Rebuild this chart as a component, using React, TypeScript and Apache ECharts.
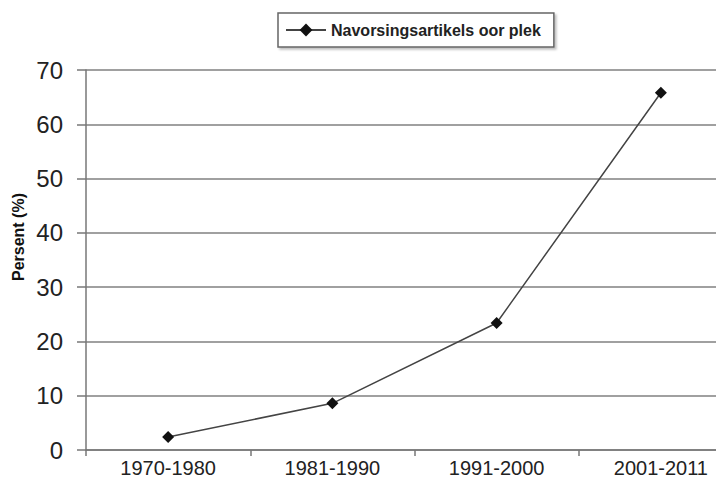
import React, { useEffect, useRef } from "react";
import * as echarts from "echarts";

const categories = ["1970-1980", "1981-1990", "1991-2000", "2001-2011"];
const seriesName = "Navorsingsartikels oor plek";
const values = [2.4, 8.6, 23.4, 65.8];
const yAxisTitle = "Persent (%)";

export default function App() {
  const ref = useRef<HTMLDivElement>(null);
  useEffect(() => {
    if (!ref.current) return;
    const chart = echarts.init(ref.current, null, { renderer: "svg" });
    const font = "'Liberation Sans', Arial, sans-serif";
    chart.setOption({
      animation: false,
      backgroundColor: "#ffffff",
      textStyle: { fontFamily: font },
      grid: { left: 86, right: 0, top: 70, bottom: 44, containLabel: false },
      legend: {
        left: 278,
        top: 13,
        padding: [9, 13, 9, 7],
        itemWidth: 40,
        itemHeight: 16,
        borderColor: "#666",
        borderWidth: 1.5,
        backgroundColor: "#fff",
        shadowColor: "rgba(0,0,0,0.25)",
        shadowOffsetX: 2,
        shadowOffsetY: 2,
        shadowBlur: 2,
        textStyle: { fontSize: 16, fontWeight: "bold", color: "#222", fontFamily: font },
        data: [seriesName],
      },
      xAxis: {
        type: "category",
        data: categories,
        boundaryGap: true,
        axisLine: { lineStyle: { color: "#777", width: 1.5 } },
        axisTick: { show: true, length: 6, lineStyle: { color: "#777", width: 1.5 } },
        axisLabel: { fontSize: 20, color: "#222", margin: 8, fontFamily: font },
      },
      yAxis: {
        type: "value",
        min: 0,
        max: 70,
        interval: 10,
        axisLine: { show: true, lineStyle: { color: "#777", width: 1.5 } },
        axisTick: { show: true, length: 9, lineStyle: { color: "#777", width: 1.5 } },
        axisLabel: { fontSize: 24, color: "#222", margin: 23, fontFamily: font },
        splitLine: { show: true, lineStyle: { color: "#808080", width: 1.5 } },
      },
      graphic: [
        {
          type: "text",
          x: 18,
          y: 237,
          rotation: Math.PI / 2,
          style: {
            text: yAxisTitle,
            fontSize: 16,
            fontWeight: "bold",
            fill: "#111",
            fontFamily: font,
            align: "center",
            verticalAlign: "middle",
          },
        },
      ],
      series: [
        {
          name: seriesName,
          type: "line",
          data: values,
          symbol: "diamond",
          symbolSize: 12,
          itemStyle: { color: "#111" },
          lineStyle: { color: "#444", width: 1.5 },
        },
      ],
    });
    return () => chart.dispose();
  }, []);
  return (
    <div
      ref={ref}
      style={{ position: "fixed", left: 0, top: 0, width: 743, height: 494 }}
    />
  );
}
